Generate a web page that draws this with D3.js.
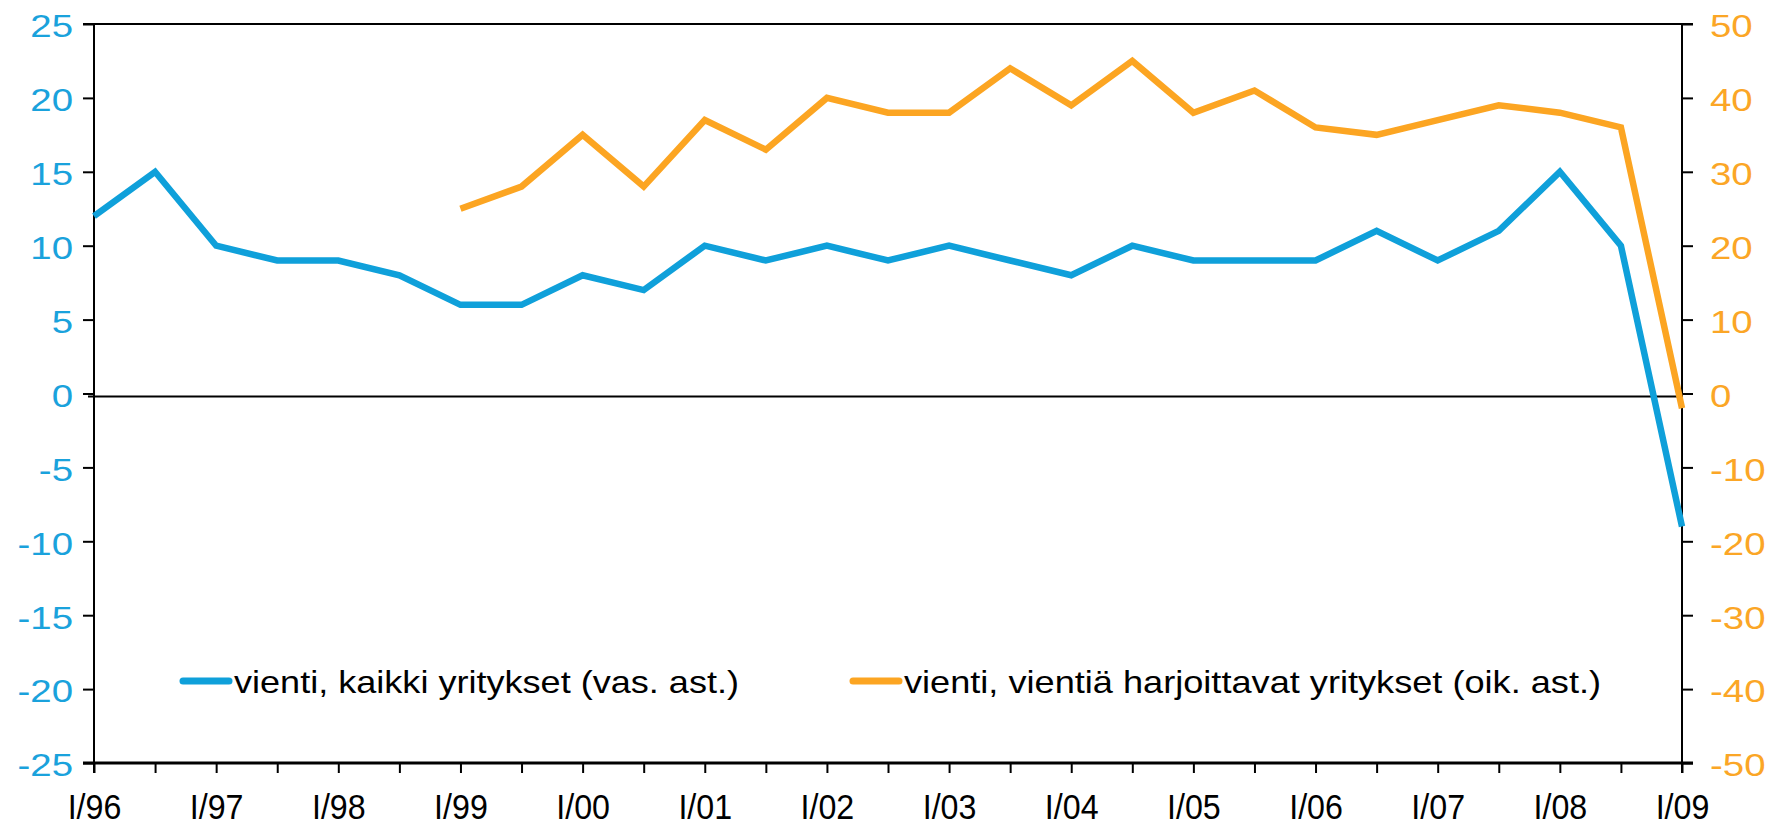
<!DOCTYPE html>
<html>
<head>
  <meta charset="UTF-8">
  <style>
    body { margin: 0; background: #fff; }
    svg { display: block; }
    text { font-family: "Liberation Sans", Arial, sans-serif; }
  </style>
</head>
<body>
<svg></svg>
<script src="https://d3js.org/d3.v7.min.js"></script>
<script>

// half-year periods, I/96 ... I/09
let periods = ["I/96","III/96","I/97","III/97","I/98","III/98","I/99","III/99",
               "I/00","III/00","I/01","III/01","I/02","III/02","I/03","III/03",
               "I/04","III/04","I/05","III/05","I/06","III/06","I/07","III/07",
               "I/08","III/08","I/09"];

// vienti, kaikki yritykset (left axis)
let allFirms = [12,15,10,9,9,8,6,6,8,7,10,9,10,9,10,9,8,10,9,9,9,11,9,11,15,10,-9];

// vienti, vientiä harjoittavat yritykset (right axis)
let exporters = [null,null,null,null,null,null,25,28,35,28,37,33,40,38,38,44,39,45,38,41,36,35,37,39,38,36,-2];

let leftTicks = [25,20,15,10,5,0,-5,-10,-15,-20,-25];
let rightTicks = [50,40,30,20,10,0,-10,-20,-30,-40,-50];

let seriesNames = ["vienti, kaikki yritykset (vas. ast.)",
                   "vienti, vientiä harjoittavat yritykset (oik. ast.)"];

let width = 1765, height = 826;
let plotLeft = 94, plotRight = 1682, plotTop = 24, plotBottom = 763;
let blue = "#0fa0da", orange = "#fca522";
let blueText = "#1aa2dc", orangeText = "#fba626";

let svg = d3.select("svg")
    .attr("width", width)
    .attr("height", height);

let x = d3.scalePoint().domain(periods).range([plotLeft, plotRight]);
let yL = d3.scaleLinear().domain([-25, 25]).range([plotBottom, plotTop]);
let yR = d3.scaleLinear().domain([-50, 50]).range([plotBottom, plotTop]);

// stretch / squeeze text sideways, the original font is not quite Arial
function widen(sel, k) {
  sel.each(function() {
    let w = this.getComputedTextLength();
    if (w > 0) d3.select(this).attr("textLength", w * k).attr("lengthAdjust", "spacingAndGlyphs");
  });
}

// top frame line
svg.append("line")
    .attr("x1", plotLeft - 11).attr("x2", plotRight + 11)
    .attr("y1", plotTop).attr("y2", plotTop)
    .attr("stroke", "#000").attr("stroke-width", 2);

// left axis
let gL = svg.append("g")
    .attr("transform", "translate(" + plotLeft + ",0)")
    .call(d3.axisLeft(yL).tickValues(leftTicks).tickSize(11).tickPadding(10).tickFormat(d => String(d)));
gL.select(".domain").remove();
gL.append("line").attr("x1", 0).attr("x2", 0).attr("y1", plotTop).attr("y2", plotBottom + 10)
    .attr("stroke", "#000").attr("stroke-width", 2);
gL.selectAll(".tick line").attr("stroke", "#000").attr("stroke-width", 2);
gL.selectAll(".tick text")
    .attr("fill", blueText).style("font-size", "32px").attr("dy", "0.4em")
    .call(widen, 1.2);

// right axis
let gR = svg.append("g")
    .attr("transform", "translate(" + plotRight + ",0)")
    .call(d3.axisRight(yR).tickValues(rightTicks).tickSize(11).tickPadding(17).tickFormat(d => String(d)));
gR.select(".domain").remove();
gR.append("line").attr("x1", 0).attr("x2", 0).attr("y1", plotTop).attr("y2", plotBottom + 10)
    .attr("stroke", "#000").attr("stroke-width", 2);
gR.selectAll(".tick line").attr("stroke", "#000").attr("stroke-width", 2);
gR.selectAll(".tick text")
    .attr("fill", orangeText).style("font-size", "32px").attr("dy", "0.4em")
    .call(widen, 1.2);

// bottom axis
let gB = svg.append("g")
    .attr("transform", "translate(0," + plotBottom + ")")
    .call(d3.axisBottom(x).tickSize(10).tickPadding(0)
      .tickFormat(d => d.startsWith("I/") ? d : ""));
gB.select(".domain").remove();
gB.append("line").attr("x1", plotLeft - 11).attr("x2", plotRight + 11).attr("y1", 0).attr("y2", 0)
    .attr("stroke", "#000").attr("stroke-width", 3);
gB.selectAll(".tick line").attr("stroke", "#000").attr("stroke-width", 2);
gB.selectAll(".tick text")
    .attr("fill", "#000").style("font-size", "35px")
    .attr("y", 56).attr("dy", 0)
    .call(widen, 0.92);

// zero line
svg.append("line")
    .attr("x1", plotLeft - 6).attr("x2", plotRight - 4)
    .attr("y1", yL(0) + 3).attr("y2", yL(0) + 3)
    .attr("stroke", "#000").attr("stroke-width", 2);

// series
let lineL = d3.line().x((d, i) => x(periods[i])).y(d => yL(d));
let lineR = d3.line().defined(d => d !== null).x((d, i) => x(periods[i])).y(d => yR(d));

svg.append("path")
    .datum(allFirms)
    .attr("d", lineL)
    .attr("fill", "none")
    .attr("stroke", blue)
    .attr("stroke-width", 6.5)
    .attr("stroke-linejoin", "miter");

svg.append("path")
    .datum(exporters)
    .attr("d", lineR)
    .attr("fill", "none")
    .attr("stroke", orange)
    .attr("stroke-width", 6.5)
    .attr("stroke-linejoin", "miter");

// legend
let legend = [
  {name: seriesNames[0], color: blue, x: 180, w: 505},
  {name: seriesNames[1], color: orange, x: 850, w: 697}
];
let lg = svg.append("g").selectAll("g")
    .data(legend)
    .enter()
    .append("g")
    .attr("transform", d => "translate(" + d.x + ",681)");
lg.append("line")
    .attr("x1", 3).attr("x2", 49).attr("y1", 0).attr("y2", 0)
    .attr("stroke", d => d.color).attr("stroke-width", 7).attr("stroke-linecap", "round");
lg.append("text")
    .attr("x", 54).attr("y", 12)
    .style("font-size", "32px")
    .attr("fill", "#000")
    .attr("textLength", d => d.w)
    .attr("lengthAdjust", "spacingAndGlyphs")
    .text(d => d.name);

</script>
</body>
</html>
